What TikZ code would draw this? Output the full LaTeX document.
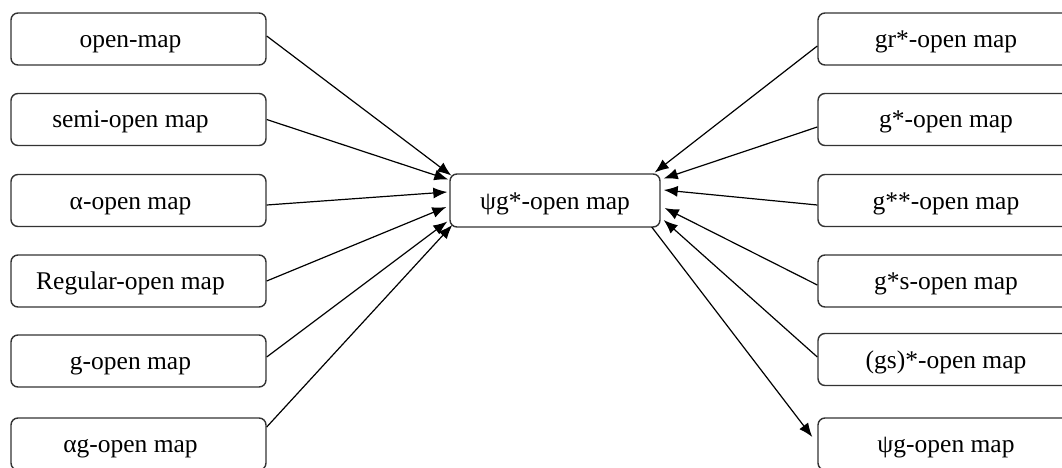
\documentclass[tikz,border=0pt]{standalone}
\usepackage{fontspec}
\setmainfont{Liberation Serif}
\usetikzlibrary{calc,arrows.meta}
\begin{document}
\begin{tikzpicture}[x=1pt,y=-1pt,
  mapbox/.style={draw=black!80,line width=1.4pt,rounded corners=7pt,fill=white,
    minimum width=255pt,minimum height=52pt,inner sep=0pt,
    text height=17pt,text depth=0pt,
    font=\fontsize{25.5}{30}\selectfont},
  centerbox/.style={mapbox,minimum width=210pt,minimum height=53pt},
  link/.style={line width=1.2pt,-{Latex[length=14pt,width=11pt]}}]
\useasboundingbox (0,0) rectangle (1062,468);
\clip (0,0) rectangle (1062,468);
\fill[white] (0,0) rectangle (1062,468);
% left column
\node[mapbox] (l1) at (138.5,39) {\hspace*{-16pt}open-map};
\node[mapbox] (l2) at (138.5,119.5) {\hspace*{-16pt}semi-open map};
\node[mapbox] (l3) at (138.5,200.5) {\hspace*{-16pt}α-open map};
\node[mapbox] (l4) at (138.5,281) {\hspace*{-16pt}Regular-open map};
\node[mapbox] (l5) at (138.5,361) {\hspace*{-16pt}g-open map};
\node[mapbox] (l6) at (138.5,444) {\hspace*{-16pt}αg-open map};
% centre
\node[centerbox] (c) at (555,200.5) {ψg*-open map};
% right column
\node[mapbox,minimum width=256pt] (r1) at (946,39) {gr*-open map};
\node[mapbox,minimum width=256pt] (r2) at (946,119.5) {g*-open map};
\node[mapbox,minimum width=256pt] (r3) at (946,200.5) {g**-open map};
\node[mapbox,minimum width=256pt] (r4) at (946,281) {g*s-open map};
\node[mapbox,minimum width=256pt] (r5) at (946,359.5) {(gs)*-open map};
\node[mapbox,minimum width=256pt] (r6) at (946,444) {ψg-open map};
% left arrows
\draw[link] ($(l1.east)+(0,-3)$) -- ($(c.west)+(2,-25)$);
\draw[link] (l2.east) -- ($(c.west)+(-1,-21)$);
\draw[link] ($(l3.east)+(0,4.5)$) -- ($(c.west)+(-2,-8.5)$);
\draw[link] (l4.east) -- ($(c.west)+(-3,6.5)$);
\draw[link] ($(l5.east)+(0,-4)$) -- ($(c.west)+(-2,21)$);
\draw[link] ($(l6.east)+(0,-17)$) -- ($(c.west)+(3,24.5)$);
% right arrows
\draw[link] ($(r1.west)+(0,7)$) -- ($(c.east)+(-6,-28)$);
\draw[link] ($(r2.west)+(0,7.5)$) -- ($(c.east)+(3,-22)$);
\draw[link] ($(r3.west)+(0,4.5)$) -- ($(c.east)+(3,-10.5)$);
\draw[link] ($(r4.west)+(0,4)$) -- ($(c.east)+(4,7.5)$);
\draw[link] ($(r5.west)+(0,-2.5)$) -- ($(c.east)+(3,19.5)$);
\draw[link] ($(c.east)+(-9,26.5)$) -- ($(r6.west)+(-5,-7)$);
\end{tikzpicture}
\end{document}
